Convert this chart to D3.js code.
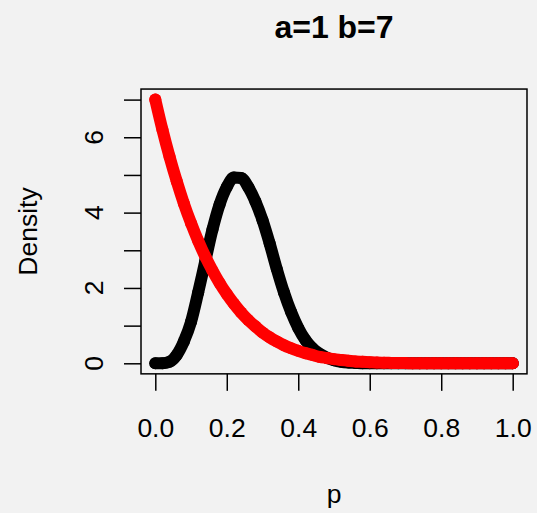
<!DOCTYPE html>
<html>
<head>
<meta charset="utf-8">
<script src="https://cdn.jsdelivr.net/npm/d3@7"></script>
<style>
  html, body { margin: 0; padding: 0; background: #f2f2f2; }
  svg { display: block; }
  text { font-family: "Liberation Sans", Arial, Helvetica, sans-serif; fill: #000; }
</style>
</head>
<body>
<script>
// ---- data ----
const pValues = [0.00,0.02,0.04,0.06,0.08,0.10,0.12,0.14,0.16,0.18,0.20,0.22,0.24,0.26,0.28,0.30,0.32,0.34,0.36,0.38,0.40,0.42,0.44,0.46,0.48,0.50,0.52,0.54,0.56,0.58,0.60,0.62,0.64,0.66,0.68,0.70,0.72,0.74,0.76,0.78,0.80,0.82,0.84,0.86,0.88,0.90,0.92,0.94,0.96,0.98,1.00];
const blackDensity = [0,0,0.04,0.22,0.58,1.10,1.88,2.72,3.55,4.22,4.68,4.93,4.92,4.68,4.30,3.80,3.18,2.50,1.88,1.36,0.94,0.62,0.40,0.25,0.15,0.08,0.04,0.02,0.01,0,0,0,0,0,0,0,0,0,0,0,0,0,0,0,0,0,0,0,0,0,0];
const redDensity = [7.00,6.20,5.48,4.83,4.24,3.72,3.25,2.83,2.46,2.13,1.84,1.58,1.35,1.15,0.98,0.82,0.69,0.58,0.48,0.40,0.33,0.27,0.22,0.17,0.14,0.11,0.09,0.07,0.05,0.04,0.03,0.02,0.015,0.01,0.007,0.005,0,0,0,0,0,0,0,0,0,0,0,0,0,0,0];
const xTicks = [0, 0.2, 0.4, 0.6, 0.8, 1.0];
const xTickLabels = ["0.0", "0.2", "0.4", "0.6", "0.8", "1.0"];
const yTicks = [0, 1, 2, 3, 4, 5, 6, 7];
const yTickLabels = ["0", "2", "4", "6"];
const yLabelValues = [0, 2, 4, 6];
const titleText = "a=1 b=7";
const xTitle = "p";
const yTitle = "Density";

// ---- layout ----
const W = 537, H = 513;
const svg = d3.select("body").append("svg").attr("width", W).attr("height", H);
svg.append("rect").attr("width", W).attr("height", H).attr("fill", "#f2f2f2");

const x = d3.scaleLinear().domain([0, 1]).range([155.3, 512.7]);
const y = d3.scaleLinear().domain([0, 7]).range([363.3, 99.6]);
const boxL = x(-0.04), boxR = x(1.04), boxT = y(7.28), boxB = y(-0.28);

// ---- series ----
const line = d3.line().x(d => x(d[0])).y(d => y(d[1])).curve(d3.curveMonotoneX);
function drawSeries(vals, color) {
  const pts = pValues.map((p, i) => [p, vals[i]]);
  const g = svg.append("g");
  g.append("path").datum(pts).attr("d", line)
    .attr("fill", "none").attr("stroke", color).attr("stroke-width", 12)
    .attr("stroke-linecap", "round").attr("stroke-linejoin", "round");
  g.selectAll("circle").data(pts).join("circle")
    .attr("cx", d => x(d[0])).attr("cy", d => y(d[1])).attr("r", 6).attr("fill", color);
}
drawSeries(blackDensity, "#000000");
drawSeries(redDensity, "#ff0000");

// ---- box ----
svg.append("rect").attr("x", boxL).attr("y", boxT)
  .attr("width", boxR - boxL).attr("height", boxB - boxT)
  .attr("fill", "none").attr("stroke", "#000").attr("stroke-width", 1.5);

// ---- x axis ----
const xAxis = svg.append("g").attr("transform", `translate(0,${boxB})`)
  .call(d3.axisBottom(x).tickValues(xTicks).tickSize(17).tickFormat((d, i) => xTickLabels[i]));
xAxis.select(".domain").remove();
xAxis.selectAll(".tick line").attr("stroke", "#000").attr("stroke-width", 1.5);
xAxis.selectAll(".tick text").attr("y", 63).attr("dy", null)
  .style("font-size", "26.5px").style("font-family", "Liberation Sans, Arial, sans-serif");

// ---- y axis ----
const yAxis = svg.append("g").attr("transform", `translate(${boxL},0)`)
  .call(d3.axisLeft(y).tickValues(yTicks).tickSize(17).tickFormat(""));
yAxis.select(".domain").remove();
yAxis.selectAll(".tick line").attr("stroke", "#000").attr("stroke-width", 1.5);
svg.append("g").selectAll("text").data(yLabelValues).join("text")
  .attr("transform", d => `translate(103.3,${y(d)}) rotate(-90)`)
  .attr("text-anchor", "middle").style("font-size", "26.5px")
  .text((d, i) => yTickLabels[i]);

// ---- titles ----
svg.append("text").attr("x", (boxL + boxR) / 2).attr("y", 37.7)
  .attr("text-anchor", "middle").style("font-size", "32px").style("font-weight", "bold")
  .text(titleText);
svg.append("text").attr("x", (boxL + boxR) / 2).attr("y", 503)
  .attr("text-anchor", "middle").style("font-size", "26.5px").text(xTitle);
svg.append("text").attr("transform", `translate(36.7,${(boxT + boxB) / 2}) rotate(-90)`)
  .attr("text-anchor", "middle").style("font-size", "26.5px").text(yTitle);
</script>
</body>
</html>
